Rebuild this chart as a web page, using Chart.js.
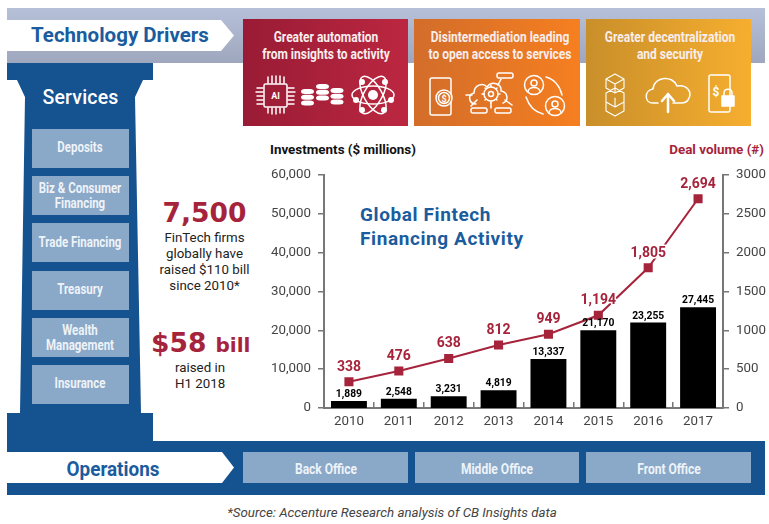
<!DOCTYPE html>
<html><head><meta charset="utf-8">
<script src="https://cdn.jsdelivr.net/npm/chart.js@4/dist/chart.umd.min.js"></script>
<style>
html,body{margin:0;padding:0;background:#fff;width:769px;height:524px;overflow:hidden}
.a{position:absolute}
.t{position:absolute;white-space:nowrap;transform:translate(-50%,-50%);text-align:center}
.n{position:absolute;white-space:nowrap;text-align:center;transform:translate(-50%,-50%) scaleX(.82);font-family:Roboto,sans-serif;font-weight:700;color:#eef3f8;font-size:14px;line-height:15px}
.c{position:absolute;white-space:nowrap;text-align:center;transform:translate(-50%,-50%) scaleX(.8);font-family:Roboto,sans-serif;font-weight:700;color:#f8eeee;font-size:15px;line-height:17px}
.r{font-family:Roboto,sans-serif;color:#222;font-size:13.3px;line-height:16px}
.box{position:absolute;background:#8aa8c8}
.card{position:absolute;top:19px;height:107px}
canvas{position:absolute;left:0;top:0}
svg{position:absolute;left:0;top:0}
</style></head><body>
<div class="a" style="left:7px;top:8px;width:758px;height:55px;background:linear-gradient(#b6c0d9,#9ea7bd)"></div>
<svg width="769" height="524">
<polygon points="7,20 221,20 234,35.5 221,51 7,51" fill="#fff"/>
<polygon points="7,63 153,63 153,80 143,80 135,97 141,413 153,413 153,441 765,441 765,495 7,495 7,413 20,413 25,97 17,80 7,80" fill="#155290"/>
<polygon points="7,452 222,452 234,467.5 222,483 7,483" fill="#fff"/>
</svg>
<div class="t" style="left:120px;top:35px;font:700 20.5px Roboto,sans-serif;color:#1b5c9e">Technology Drivers</div>
<div class="t" style="left:80.5px;top:97px;font:500 19.5px Roboto,sans-serif;color:#fff;letter-spacing:.2px">Services</div>
<div class="n" style="left:112.5px;top:469px;font-size:21px;line-height:24px;color:#1b5c9e;transform:translate(-50%,-50%) scaleX(.9)">Operations</div>

<div class="box" style="left:32px;top:129px;width:97px;height:39px"></div>
<div class="box" style="left:32px;top:176px;width:97px;height:39px"></div>
<div class="box" style="left:32px;top:223px;width:97px;height:39px"></div>
<div class="box" style="left:32px;top:271px;width:97px;height:39px"></div>
<div class="box" style="left:32px;top:318px;width:97px;height:39px"></div>
<div class="box" style="left:32px;top:365px;width:97px;height:39px"></div>
<div class="n" style="left:80px;top:147px">Deposits</div>
<div class="n" style="left:80px;top:195.5px">Biz &amp; Consumer<br>Financing</div>
<div class="n" style="left:80px;top:242px">Trade Financing</div>
<div class="n" style="left:80px;top:289px">Treasury</div>
<div class="n" style="left:80px;top:337.5px">Wealth<br>Management</div>
<div class="n" style="left:80px;top:383px">Insurance</div>

<div class="box" style="left:243px;top:452px;width:165px;height:31px"></div>
<div class="box" style="left:415px;top:452px;width:164px;height:31px"></div>
<div class="box" style="left:586px;top:452px;width:165px;height:31px"></div>
<div class="n" style="left:325.5px;top:469px;transform:translate(-50%,-50%) scaleX(.86)">Back Office</div>
<div class="n" style="left:497px;top:469px;transform:translate(-50%,-50%) scaleX(.86)">Middle Office</div>
<div class="n" style="left:668.5px;top:469px;transform:translate(-50%,-50%) scaleX(.86)">Front Office</div>

<div class="card" style="left:243px;width:165px;background:linear-gradient(90deg,#991b35,#bc2740)"></div>
<div class="card" style="left:414px;width:166px;background:linear-gradient(90deg,#d26d2a,#f67f20)"></div>
<div class="card" style="left:586px;width:165px;background:linear-gradient(90deg,#c98f2a,#f6ae2f)"></div>
<div class="c" style="left:326px;top:46px">Greater automation<br>from insights to activity</div>
<div class="c" style="left:499.5px;top:46px">Disintermediation leading<br>to open access to services</div>
<div class="c" style="left:670px;top:46px">Greater decentralization<br>and security</div>

<svg width="769" height="524" fill="none" stroke="#fff" stroke-width="1.5" stroke-linecap="round" stroke-linejoin="round">
<!-- chip -->
<rect x="264" y="84" width="23" height="23" rx="1.5"/>
<path d="M268 77v6M272 76v7M276 76v7M280 76v7M284 77v6M268 108v5M272 108v6M276 108v6M280 108v5M284 108v5M257 88h6M256 92h7M257 96h6M257 100h6M257 104h6M288 88h6M288 92h7M288 96h6M288 100h6M288 104h6"/>
<text x="275.5" y="99" font-family="Roboto,sans-serif" font-weight="700" font-size="9" fill="#fff" stroke="none" text-anchor="middle">AI</text>
<!-- stacks -->
<g fill="#fff" stroke="none">
<rect x="301" y="89" width="13" height="5" rx="4"/><rect x="301" y="94.7" width="13" height="5" rx="4"/><rect x="301" y="100.4" width="13" height="5" rx="4"/>
<rect x="316" y="84" width="13" height="5" rx="4"/><rect x="316" y="89.7" width="13" height="5" rx="4"/><rect x="316" y="95.4" width="13" height="5" rx="4"/>
<rect x="330.5" y="88" width="13" height="5" rx="4"/><rect x="330.5" y="93.7" width="13" height="5" rx="4"/><rect x="330.5" y="99.4" width="13" height="5" rx="4"/>
</g>
<!-- atom -->
<ellipse cx="373" cy="95" rx="21" ry="9"/><ellipse cx="373" cy="95" rx="21" ry="9" transform="rotate(60 373 95)"/><ellipse cx="373" cy="95" rx="21" ry="9" transform="rotate(120 373 95)"/>
<g fill="#fff" stroke="none"><circle cx="373" cy="95" r="5"/><circle cx="385" cy="82" r="3"/><circle cx="362" cy="82" r="3"/><circle cx="356" cy="100" r="3"/><circle cx="391" cy="100" r="3"/><circle cx="384" cy="110" r="3"/><circle cx="362" cy="110" r="3"/></g>
<!-- phone $ -->
<rect x="430" y="78" width="21" height="37" rx="2"/><circle cx="444" cy="98" r="8" fill="#dd7428"/><circle cx="444" cy="98" r="5.5"/>
<text x="444" y="101.5" font-family="Roboto,sans-serif" font-weight="700" font-size="9" fill="#fff" stroke="none" text-anchor="middle">$</text>
<!-- cloud gear -->
<path d="M476 104c-7 0-9-9-2-11 0-8 9-11 13-6 5-7 15-3 14 4 7 1 8 10 2 12"/>
<circle cx="491" cy="94" r="7"/><circle cx="491" cy="94" r="2.5"/>
<path d="M491 85v2M491 101v2M482 94h2M498 94h2M485 88l1 1M497 88l-1 1M485 100l1-1M497 100l-1-1"/>
<rect x="497" y="73" width="16" height="5" rx="2"/><rect x="471" y="108" width="16" height="5" rx="2"/><rect x="495" y="108" width="16" height="5" rx="2"/>
<path d="M466 95h6M471 106l6-6M491 108v-5M505 100l7 5M498 85l3-6"/>
<!-- users -->
<circle cx="534" cy="85" r="9.5"/><circle cx="555" cy="106" r="9.5"/>
<circle cx="534" cy="83" r="3"/><path d="M528 92c0-6 12-6 12 0"/><circle cx="555" cy="104" r="3"/><path d="M549 113c0-6 12-6 12 0"/>
<path d="M546 77c8 2 14 9 16 18M543 114c-8-2-14-8-17-17"/>
<!-- cubes -->
<path d="M606 79l9-5 9 5v9l-9 5-9-5zM606 79l9 5 9-5M615 84v9M606 93l9-5 9 5v9l-9 5-9-5zM615 98v9M606 102l9 5 9-5v9l-9 5-9-5z" stroke-width="1.1"/>
<!-- cloud -->
<path d="M658 103h-5c-9 0-9-13 0-14 1-13 20-14 24-3 10-2 15 6 12 12-1 3-4 5-8 5h-8"/>
<path d="M668 112v-18M662 101l6-7 6 7" stroke-width="2.5"/>
<!-- phone lock -->
<rect x="709" y="75" width="21" height="37" rx="2"/><rect x="722" y="96" width="12" height="10" fill="#fff"/><path d="M724 96v-3c0-5 8-5 8 0v3" stroke="#fff"/>
<text x="716" y="96" font-family="Roboto,sans-serif" font-weight="700" font-size="12" fill="#fff" stroke="none" text-anchor="middle">$</text>
</svg>

<div class="t" style="left:204.5px;top:212px;font:700 26.5px 'DejaVu Sans',sans-serif;color:#a6243b">7,500</div>
<div class="t r" style="left:204.5px;top:262px">FinTech firms<br>globally have<br>raised $110 bill<br>since 2010*</div>
<div class="a" style="left:151px;top:327px;white-space:nowrap;color:#a6243b;font:700 26.5px 'DejaVu Sans',sans-serif">$58 <span style="font-size:20px">bill</span></div>
<div class="a r" style="left:175px;top:360px">raised in<br>H1 2018</div>

<div class="a" style="left:270px;top:142px;font:700 13.4px Roboto,sans-serif;color:#111;white-space:nowrap">Investments ($ millions)</div>
<div class="a" style="right:5px;top:142px;font:700 13.4px Roboto,sans-serif;color:#a6243b;white-space:nowrap">Deal volume (#)</div>
<div class="a" style="left:360px;top:203px;font:700 19px/24px Roboto,sans-serif;color:#1b5c9e;letter-spacing:.6px;white-space:nowrap">Global Fintech<br>Financing Activity</div>
<div class="t" style="left:392px;top:512px;font:italic 400 13.3px Roboto,sans-serif;color:#444">*Source: Accenture Research analysis of CB Insights data</div>

<canvas id="c" width="769" height="524"></canvas>
<script>
const categories = ["2010","2011","2012","2013","2014","2015","2016","2017"];
const investments = [1889,2548,3231,4819,13337,21170,23255,27445];
const dealVolume = [338,476,638,812,949,1194,1805,2694];
const RED = "#a6243b", AXIS = "#777";

const valueLabels = {
  id: "valueLabels",
  afterDatasetsDraw(chart) {
    const ctx = chart.ctx;
    ctx.save();
    ctx.textAlign = "center";
    ctx.textBaseline = "middle";
    ctx.font = "700 10.3px Roboto, sans-serif";
    ctx.fillStyle = "#000";
    chart.getDatasetMeta(0).data.forEach((el, i) => {
      ctx.fillText(investments[i].toLocaleString("en-US"), el.x, el.y - 6.5);
    });
    ctx.font = "700 14px Roboto, sans-serif";
    ctx.lineJoin = "round";
    chart.getDatasetMeta(1).data.forEach((el, i) => {
      const s = dealVolume[i].toLocaleString("en-US");
      ctx.strokeStyle = "#fff";
      ctx.lineWidth = 3;
      ctx.strokeText(s, el.x, el.y - 14.5);
      ctx.fillStyle = RED;
      ctx.fillText(s, el.x, el.y - 14.5);
    });
    ctx.restore();
  }
};

new Chart(document.getElementById("c"), {
  data: {
    labels: categories,
    datasets: [
      { type: "bar", data: investments, yAxisID: "yBars", backgroundColor: "#000", barPercentage: 0.72, categoryPercentage: 1, order: 2 },
      { type: "line", data: dealVolume, yAxisID: "yDeals", borderColor: RED, borderWidth: 2, pointStyle: "rect", pointRadius: 5, pointBackgroundColor: RED, pointBorderColor: RED, tension: 0, order: 1 }
    ]
  },
  plugins: [valueLabels],
  options: {
    responsive: false,
    animation: false,
    layout: { padding: { left: 264, right: 0, top: 175, bottom: 90 } },
    plugins: { legend: { display: false }, tooltip: { enabled: false } },
    scales: {
      x: {
        offset: true,
        grid: { display: true, offset: true, drawOnChartArea: false, drawTicks: true, tickLength: -6, color: AXIS, lineWidth: 1.5 },
        border: { display: true, color: AXIS, width: 2 },
        ticks: { color: "#444", font: { family: "Roboto", size: 13.3 }, padding: 12, maxRotation: 0, autoSkip: false },
        afterFit(s) { s.height = 26; }
      },
      yInvest: {
        position: "left", min: 0, max: 60000,
        grid: { drawOnChartArea: false, tickLength: 6, color: AXIS, lineWidth: 1.5 },
        border: { display: true, color: AXIS, width: 2 },
        ticks: { stepSize: 10000, color: "#444", font: { family: "Roboto", size: 13.3 }, padding: 7, callback: v => v.toLocaleString("en-US") },
        afterFit(s) { s.width = 60; }
      },
      yDeals: {
        position: "right", min: 0, max: 3000,
        grid: { drawOnChartArea: false, tickLength: 6, color: AXIS, lineWidth: 1.5 },
        border: { display: true, color: AXIS, width: 2 },
        ticks: { stepSize: 500, color: "#444", font: { family: "Roboto", size: 13.3 }, padding: 7, callback: v => String(v) },
        afterFit(s) { s.width = 46; }
      },
      yBars: { display: false, position: "left", min: 0, max: 63400 }
    }
  }
});
</script>
</body></html>
